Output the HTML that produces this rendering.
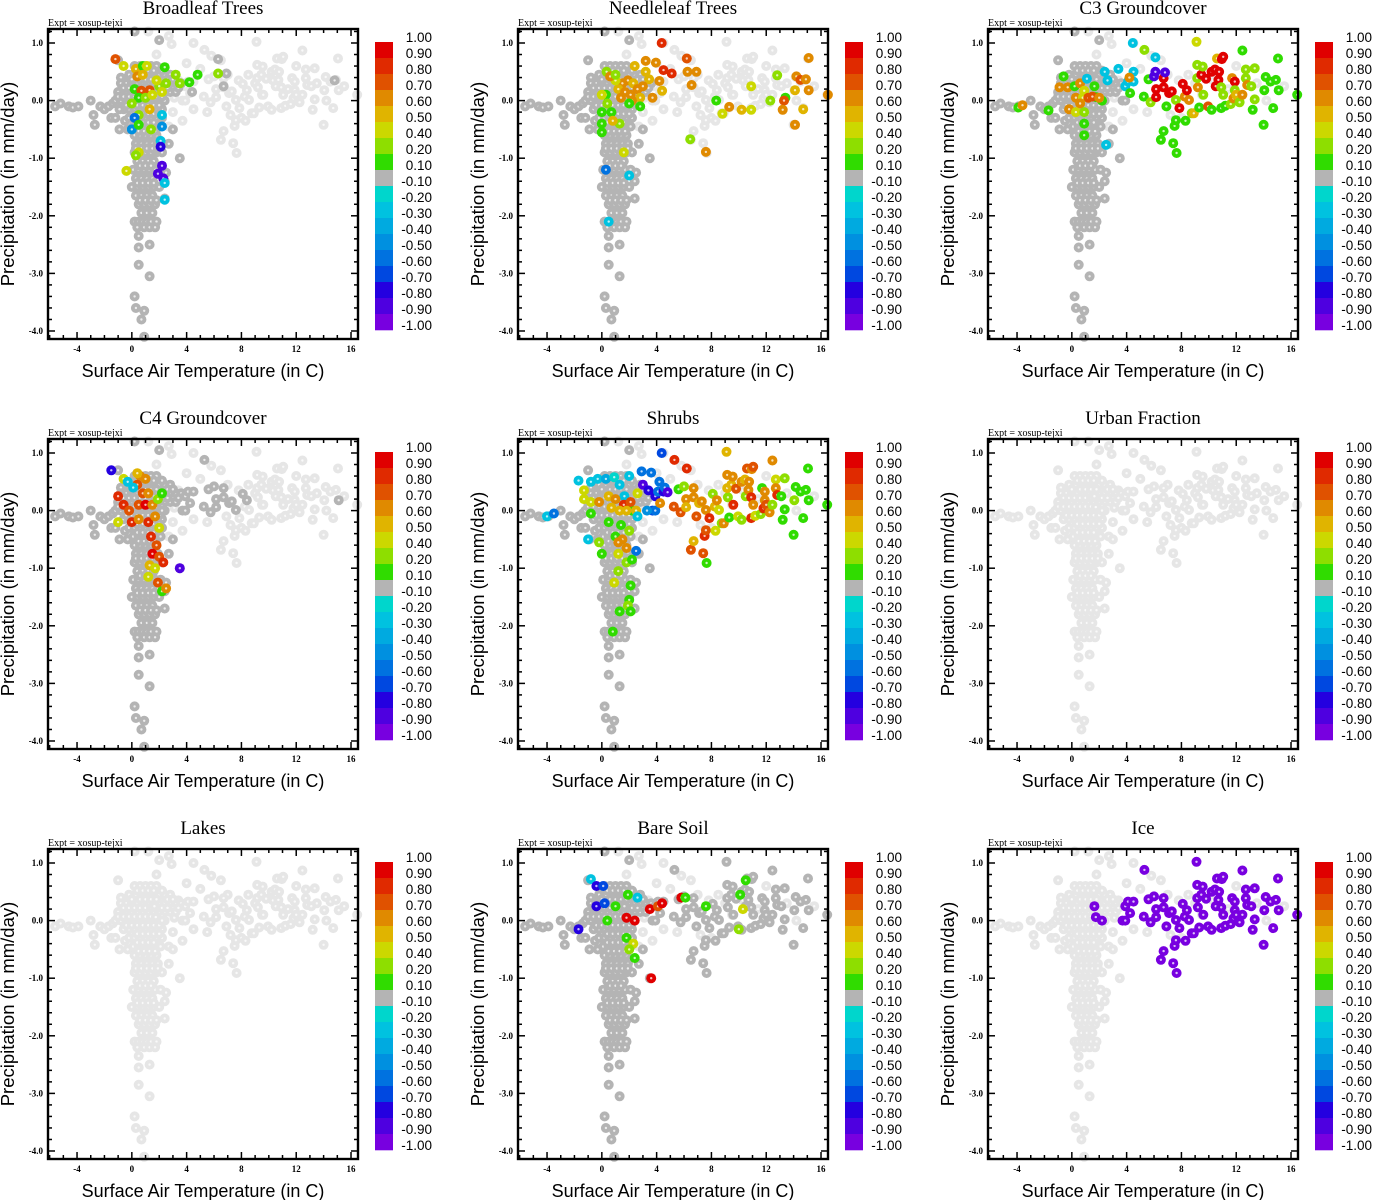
<!DOCTYPE html>
<html><head><meta charset="utf-8"><style>
html,body{margin:0;padding:0;background:#fff;}
svg{display:block;}
</style></head><body>
<svg id="chart" width="1373" height="1200" viewBox="0 0 1373 1200" xmlns="http://www.w3.org/2000/svg"></svg>
<script>
// ---------- data ----------
const coldT=[-5.6,-5.2,-4.6,-4.3,-3.9,-3,-2.8,-2.7,-2.3,-2,-1.7,-1.4,-1.5,-1.2,-1.0,-0.8,-0.9,-0.5,-0.3,
0.2,0.6,1.0,1.4,1.8,
-0.2,0.3,0.8,1.2,1.6,2.0,2.4,2.8,
-0.8,-0.4,0,0.4,0.8,1.2,1.6,2.0,2.4,2.8,3.2,3.6,
-1.0,-0.5,0,0.4,0.8,1.2,1.6,2.0,2.4,2.8,3.2,
-1.2,-0.8,-0.4,0,0.4,0.8,1.2,1.6,2.0,2.4,
-0.6,-0.2,0.2,0.6,1.0,1.4,1.8,2.2,
-0.2,0.2,0.6,1.0,1.4,1.8,2.2,
0.1,0.5,0.9,1.3,1.7,2.1,
0.2,0.6,1.0,1.4,1.8,
0.3,0.7,1.1,1.5,1.9,
0.2,0.6,1.0,1.4,1.8,2.2,
0.4,0.8,1.2,1.6,
0.1,0.5,0.9,1.3,1.7,2.1,
0.3,0.7,1.1,1.5,
0.0,0.4,0.8,1.2,1.6,2.0,
0.3,0.7,1.1,1.5,
0.5,0.9,1.3,1.7,
0.7,1.1,1.5,
0.2,0.5,0.8,1.1,1.4,1.8,
0.4,0.9,1.3,1.7,
0.5,0.5,1.3,0.5,1.3,0.2,0.3,0.9,0.7,0.9,
2.7,2.5,2.4,2.4,3.5,3.0,1.8,2.0,0.2,
0.4,0.8,1.2,1.6,2.2,0.0,0.6,1.0,1.4,1.8,2.6,3.0,-0.6,-0.2,0.2,0.6,1.0,1.4,1.8,2.2,2.6,3.4,-1.0,-0.6,-0.2,0.2,0.6,1.0,1.4,1.8,2.2,-0.4,0.0,0.4,0.8,1.2,1.6,2.0,0.4,0.8,1.2,1.6,2.0,0.4,0.8,1.2,1.6,0.5,0.9,1.3,1.7,0.3,0.7,1.1,1.5,1.9,0.6,1.0,1.4,0.4,0.8,1.2,1.6,0.6,1.0,1.4,1.8];
const coldP=[-0.1,-0.05,-0.1,-0.12,-0.1,0.0,-0.25,-0.42,-0.1,-0.15,-0.1,-0.05,-0.3,-0.3,0.7,0.4,-0.5,-0.35,-0.5,
0.6,0.6,0.6,0.6,0.6,
0.45,0.45,0.45,0.45,0.45,0.45,0.45,0.45,
0.3,0.3,0.3,0.3,0.3,0.3,0.3,0.3,0.3,0.3,0.3,0.3,
0.15,0.15,0.15,0.15,0.15,0.15,0.15,0.15,0.15,0.15,0.15,
0,0,0,0,0,0,0,0,0,0,
-0.15,-0.15,-0.15,-0.15,-0.15,-0.15,-0.15,-0.15,
-0.3,-0.3,-0.3,-0.3,-0.3,-0.3,-0.3,
-0.45,-0.45,-0.45,-0.45,-0.45,-0.45,
-0.6,-0.6,-0.6,-0.6,-0.6,
-0.75,-0.75,-0.75,-0.75,-0.75,
-0.9,-0.9,-0.9,-0.9,-0.9,-0.9,
-1.05,-1.05,-1.05,-1.05,
-1.2,-1.2,-1.2,-1.2,-1.2,-1.2,
-1.35,-1.35,-1.35,-1.35,
-1.5,-1.5,-1.5,-1.5,-1.5,-1.5,
-1.65,-1.65,-1.65,-1.65,
-1.8,-1.8,-1.8,-1.8,
-1.95,-1.95,-1.95,
-2.1,-2.1,-2.1,-2.1,-2.1,-2.1,
-2.2,-2.2,-2.2,-2.2,
-2.35,-2.55,-2.5,-2.85,-3.05,-3.4,-3.6,-3.65,-3.8,-4.1,
-0.75,-1.25,-1.4,-1.7,-1.0,-0.5,-0.85,1.05,1.2,
0.52,0.52,0.52,0.52,0.52,0.37,0.37,0.37,0.37,0.37,0.37,0.37,0.22,0.22,0.22,0.22,0.22,0.22,0.22,0.22,0.22,0.22,0.07,0.07,0.07,0.07,0.07,0.07,0.07,0.07,0.07,-0.08,-0.08,-0.08,-0.08,-0.08,-0.08,-0.08,-0.23,-0.23,-0.23,-0.23,-0.23,-0.38,-0.38,-0.38,-0.38,-0.53,-0.53,-0.53,-0.53,-0.83,-0.83,-0.83,-0.83,-0.83,-1.13,-1.13,-1.13,-1.43,-1.43,-1.43,-1.43,-1.73,-1.73,-1.73,-1.73];
const warmT=[1.65,1.75,2.2,3.9,3.7,3.9,4.1,4.5,4.25,5.3,5.25,5.6,6.0,5.75,6.15,6.15,6.5,6.7,6.7,6.7,6.9,7.1,7.3,7.4,7.5,7.6,7.65,7.6,7.85,8.1,8.25,8.3,8.4,8.55,8.75,8.9,9.1,9.15,9.2,9.15,9.3,9.45,9.55,9.6,9.8,9.95,10.2,10.2,10.45,10.5,10.6,10.7,10.75,10.9,10.9,10.95,11.05,11.05,11.2,11.6,11.7,11.9,11.9,11.8,12.0,12.25,12.45,12.45,12.7,12.7,12.8,13.1,13.35,13.35,13.2,14.0,14.05,14.15,14.5,14.7,14.9,15.05,15.1,16.45];
const warmP=[0.25,0.06,0.0,0.25,0,0,0.33,0.33,0.13,0.88,0.07,0.37,0.42,-0.03,0.2,0.06,-0.68,-0.53,0.39,0.23,-0.1,0.13,0.16,-0.74,-0.44,-0.34,-0.91,0.01,-0.13,0.29,0.07,-0.35,0.18,0.01,-0.22,-0.22,1.02,0.62,0.23,0.39,-0.12,0.45,0.59,0.1,0.38,-0.1,-0.16,0.5,0.54,0.25,0.73,0.36,0.5,-0.13,0.23,0.72,0.76,0.1,-0.09,-0.06,0.39,0.33,0.18,0.04,0.1,-0.03,0.1,0.87,0.54,0.39,0.27,0.25,0.56,0.02,-0.16,-0.42,0.18,0.41,0.33,-0.13,0.36,0.73,0.18,0.1];
const extraT=[2.7,2.9,4.5,5.8,4.0,5.0,3.4,3.1,3.7,2.7,3.0,4.5,5.5,6.5,7.0,7.8,8.5,9.5,10.3,11.4,12.0,13.5,14.2,15.5,8.0,7.2,9.0,1.2,1.8];
const extraP=[1.12,0.98,1.0,0.78,0.65,0.55,0.35,0.05,-0.35,-0.45,-0.2,-0.15,-0.2,0.7,0.45,0.35,0.45,0.1,0.35,0.2,0.6,0.3,0.0,0.25,-0.3,-0.25,0.3,1.2,0.8];

const panelTitles=["Broadleaf Trees","Needleleaf Trees","C3 Groundcover","C4 Groundcover","Shrubs","Urban Fraction","Lakes","Bare Soil","Ice"];
const coldMode=[0,0,0,0,0,null,null,0,null];
const N=null;
const warmBroadleaf=[];
const warmNeedleleaf=[];
const warmC3=[0.15,0.15,0.15,-0.25,0,0,-0.25,-0.25,0.15,0.3,0.15,0.15,-0.85,0.3,0.95,0.95,0.15,0.15,0.95,0.95,0.15,0.95,0.95,0.15,0.15,0.15,0.15,0.3,0.95,0.95,0.65,0.15,0.95,0.65,0.3,0.55,0.45,0.3,0.65,0.3,0.15,0.95,0.3,0.3,0.95,0.75,0.15,0.95,0.95,0.95,0.55,0.95,0.95,0.15,0.3,0.95,0.95,0.3,0.15,0.3,0.65,0.95,0.3,0.65,0.55,0.3,0.65,0.15,0.3,0.3,0.65,0.3,0.3,0.3,0.15,0.15,0.15,0.15,0.15,0.15,0.15,0.15,0.15,0.15];
const warmC4=[0,0,0,0,0,0,0,0,0,0,0,0,0,0,0,0,N,N,0,0,N,0,0,N,N,N,N,0,N,0,N,N,0,N,N,N,N,N,N,N,N,N,N,N,N,N,N,N,N,N,N,N,N,N,N,N,N,N,N,N,N,N,N,N,N,N,N,N,N,N,N,N,N,N,N,N,N,N,N,N,N,N,0,N];
const warmShrubs=[-0.3,0.15,0.15,-0.8,-0.7,-0.6,-0.55,-0.8,0.6,0.85,0.75,0.15,0.3,0.75,0.6,0.5,0.75,0.5,0.6,0.6,0.75,0.5,0.6,0.75,0.85,0.75,0.15,0.6,0.85,0.3,0.5,0.45,0.6,0.45,0.3,0.6,0.5,0.6,0.3,0.55,0.15,0.55,0.6,0.85,0.75,0.4,0.3,0.6,0.55,0.3,0.75,0.6,0.6,0.85,0.85,0.6,0.75,0.6,0.45,0.3,0.15,0.6,0.6,0.85,0.75,0.6,0.3,0.6,0.45,0.6,0.85,0.15,0.3,0.15,0.15,0.15,0.3,0.15,0.15,0.15,0.15,0.15,0.15,0.15];
const warmUrban=[];
const warmLakes=[];
const warmBareSoil=[0,0,0,0,0,0,0,0,0,0,0,0,0,0,0,0,0,0,0,0,0,0,0,0,0,0,0,0,0,0,0,0,0,0,0,0,0,0,0,0,0,0,0,0,0,0,0,0,0,0,0,0,0,0,0,0,0,0,0,0,0,0,0,0,0,0,0,0,0,0,0,0,0,0,0,0,0,0,0,0,0,0,0,0];
const warmIce=[-0.95,-0.95,-0.95,-0.95,-0.95,-0.95,-0.95,-0.95,-0.95,-0.95,-0.95,-0.95,-0.95,-0.95,-0.95,-0.95,-0.95,-0.95,-0.95,-0.95,-0.95,-0.95,-0.95,-0.95,-0.95,-0.95,-0.95,-0.95,-0.95,-0.95,-0.95,-0.95,-0.95,-0.95,-0.95,-0.95,-0.95,-0.95,-0.95,-0.95,-0.95,-0.95,-0.95,-0.95,-0.95,-0.95,-0.95,-0.95,-0.95,-0.95,-0.95,-0.95,-0.95,-0.95,-0.95,-0.95,-0.95,-0.95,-0.95,-0.95,-0.95,-0.95,-0.95,-0.95,-0.95,-0.95,-0.95,-0.95,-0.95,-0.95,-0.95,-0.95,-0.95,-0.95,-0.95,-0.95,-0.95,-0.95,-0.95,-0.95,-0.95,-0.95,-0.95,-0.95];
const warmVals=[warmBroadleaf,warmNeedleleaf,warmC3,warmC4,warmShrubs,warmUrban,warmLakes,warmBareSoil,warmIce];

const hlBroadleaf=[[-1.2,0.72,0.75],[-0.6,0.6,0.4],[0.3,0.55,0.5],[0.8,0.6,0.15],[1.1,0.6,0.4],[0.4,0.42,0.6],[0.8,0.45,0.5],[0.2,0.2,0.15],[0.7,0.17,0.7],[1.3,0.18,0.7],[0.5,0.05,0.15],[1.0,0.05,0.3],[1.5,0.1,0.45],[2.0,0.25,0.3],[2.5,0.3,0.3],[3.2,0.45,0.3],[1.8,0.35,0.45],[2.2,0.15,0.45],[3.5,0.3,0.3],[4.2,0.32,0.15],[4.8,0.45,0.15],[6.3,0.47,0.3],[2.4,0.58,0.15],[0.0,-0.05,0.3],[1.3,-0.15,0.55],[0.5,-0.25,0.3],[0.2,-0.3,-0.6],[0.0,-0.5,-0.5],[0.5,-0.42,0.15],[1.4,-0.5,0.3],[2.2,-0.25,-0.25],[2.2,-0.45,-0.5],[2.1,-0.7,-0.3],[2.1,-0.8,-0.75],[0.5,-0.9,0.45],[0.3,-0.95,0.3],[-0.4,-1.22,0.45],[2.2,-1.13,-0.85],[1.9,-1.27,-0.85],[2.3,-1.35,-0.85],[2.4,-1.43,-0.3],[2.4,-1.72,-0.25],[6.3,0.72,0],[6.9,0.47,0],[6.7,0.25,0],[4.4,0.15,0],[14.8,0.35,0],[-0.9,-0.15,0]];
const hlNeedleleaf=[[4.37,1.0,0.85],[6.2,0.73,0.75],[3.2,0.69,0.65],[3.95,0.66,0.65],[2.4,0.6,0.55],[4.5,0.53,0.85],[5.1,0.47,0.85],[6.25,0.5,0.65],[6.9,0.5,0.65],[3.2,0.5,0.55],[0.35,0.5,0.3],[4.2,0.34,0.65],[3.45,0.37,0.55],[6.55,0.27,0.65],[4.4,0.17,0.55],[3.7,0.05,0.65],[8.35,0.0,0.15],[9.3,-0.11,0.65],[8.8,-0.23,0.45],[10.2,-0.16,0.55],[10.9,-0.16,0.45],[10.9,0.25,0.45],[12.8,0.44,0.3],[12.3,0.0,0.3],[13.4,0.05,0.15],[13.3,0.0,0.75],[13.2,-0.16,0.65],[14.1,0.18,0.55],[14.2,0.42,0.65],[14.5,0.36,0.7],[14.9,0.37,0.65],[15.1,0.18,0.65],[14.7,-0.15,0.55],[14.1,-0.42,0.65],[15.1,0.74,0.65],[16.5,0.1,0.65],[6.45,-0.67,0.3],[7.6,-0.89,0.65],[1.5,0.3,0.65],[1.9,0.35,0.65],[2.3,0.3,0.55],[1.2,0.2,0.55],[1.7,0.15,0.65],[2.1,0.1,0.65],[2.6,0.2,0.65],[3.0,0.25,0.65],[1.0,0.35,0.45],[0.6,0.42,0.65],[2.8,0.05,0.55],[1.4,0.05,0.65],[2.2,0.0,0.65],[0.3,0.1,0.15],[0.0,0.1,0.45],[0.4,-0.05,0.3],[0.0,-0.2,0.15],[0.7,-0.2,0.15],[0.0,-0.4,0.15],[0.0,-0.55,0.15],[1.3,-0.4,0.3],[0.8,-0.35,0.55],[2.0,-0.05,0.15],[2.8,-0.1,0.15],[1.6,-0.9,0.45],[0.3,-1.2,-0.55],[2.0,-1.3,-0.25],[0.5,-2.1,-0.25],[1.0,0.45,0.3]];
const hlC3=[[-3.9,-0.12,0.15],[-3.6,-0.08,0.6],[-1.7,-0.17,0.15],[-0.6,0.42,0.15],[-0.9,0.23,0.6],[-0.3,0.23,0.6],[0.2,0.25,0.15],[0.6,0.3,0.6],[0.9,0.17,0.45],[0.3,0.05,0.6],[0.8,0.05,0.45],[1.2,0.05,0.75],[1.5,0.07,0.75],[2.0,0.05,0.6],[0.6,-0.05,0.6],[-0.2,-0.15,0.6],[0.3,-0.2,0.45],[0.9,-0.2,0.3],[0.9,-0.4,0.15],[0.9,-0.6,0.15],[2.5,-0.77,-0.25],[1.1,0.38,-0.3],[2.4,0.5,-0.25],[2.6,0.35,-0.25],[3.4,0.55,-0.25],[4.5,0.5,-0.25],[4.2,0.4,0.6],[4.45,1.0,-0.25],[6.1,0.75,-0.3],[6.1,0.5,-0.85],[6.8,0.49,-0.85]];
const hlC4=[[-1.5,0.7,-0.8],[-0.6,0.55,0.45],[-0.3,0.5,-0.3],[0.6,0.6,0.6],[-1.0,0.25,0.85],[-0.6,0.1,0.85],[-0.2,0.0,0.75],[0.0,-0.2,0.85],[-1.0,-0.2,0.45],[0.4,0.45,0.75],[1.0,0.55,0.65],[0.8,0.3,0.75],[1.2,0.3,0.6],[0.5,0.1,0.75],[1.0,0.1,0.95],[1.5,0.1,0.6],[1.9,0.2,0.35],[2.2,0.3,0.15],[0.5,-0.15,0.6],[1.2,-0.2,0.85],[1.7,-0.1,0.65],[2.0,-0.3,0.45],[1.4,-0.45,0.85],[1.8,-0.6,0.75],[1.5,-0.75,0.95],[2.0,-0.8,0.7],[1.3,-0.95,0.55],[1.7,-1.0,0.45],[2.3,-0.9,0.85],[1.2,-1.15,0.45],[3.5,-1.0,-0.85],[1.9,-1.25,0.75],[2.2,-1.4,0.15],[2.5,-1.35,0.6],[0.1,0.4,-0.25],[0.4,0.65,0.55]];
const hlShrubs=[[-4,-0.1,-0.25],[-3.5,-0.05,-0.55],[-1.7,0.52,-0.25],[-1.3,0.35,0.45],[-0.8,0.5,-0.25],[-0.3,0.55,-0.3],[0.3,0.55,-0.35],[0.9,0.58,-0.2],[1.3,0.45,-0.25],[2.0,0.6,-0.25],[2.9,0.68,-0.6],[3.6,0.66,-0.6],[3.0,0.45,-0.85],[3.4,0.35,-0.75],[4.2,0.5,-0.6],[4.6,0.4,-0.55],[4.8,0.32,-0.85],[2.6,0.3,0.45],[-1.3,0.2,0.45],[-0.8,0.15,0.45],[-0.2,0.15,0.65],[0.5,0.25,0.55],[1.0,0.2,0.6],[1.6,0.1,0.85],[2.1,0.15,0.75],[1.8,0.0,0.55],[0.7,0.05,0.55],[1.3,0.0,0.55],[2.5,0.0,0.55],[-0.8,-0.05,0.15],[3.3,0.0,-0.5],[2.6,-0.1,-0.25],[0.5,-0.2,0.15],[1.0,-0.45,0.15],[1.4,-0.25,0.15],[2.0,-0.35,0.3],[1.5,-0.5,0.65],[1.8,-0.65,0.65],[1.2,-0.55,0.65],[1.2,-0.75,0.45],[1.8,-0.9,0.3],[2.2,-0.85,0.15],[2.5,-0.7,-0.55],[-1,-0.5,-0.25],[-0.2,-0.55,0.3],[1.2,-1.05,0.3],[0.9,-1.25,0.45],[2.1,-1.3,0.15],[2.0,-1.55,0.15],[1.9,-1.65,0.3],[1.3,-1.75,0.15],[2.1,-1.75,0.15],[0.8,-2.1,0.15],[0.0,-0.75,0.15],[4.37,1.0,-0.7],[6.2,0.73,0.85]];
const hlUrban=[];
const hlLakes=[];
const hlBareSoil=[[-0.8,0.72,-0.25],[-0.4,0.6,-0.8],[0.1,0.6,-0.7],[-1.7,-0.15,-0.8],[-0.4,0.25,-0.8],[0.2,0.3,-0.7],[1.9,0.45,0.15],[2.6,0.4,-0.25],[3.5,0.2,0.95],[4.1,0.25,0.75],[4.4,0.3,0.95],[5.8,0.4,0.95],[6.1,0.4,0.15],[7.6,0.25,0.15],[1.8,0.05,0.95],[2.4,0.0,0.95],[1.8,-0.3,0.15],[2.3,-0.4,0.45],[2.0,-0.5,0.3],[2.4,-0.65,0.15],[3.6,-1.0,0.9],[10.5,0.7,0.15],[10.1,0.45,0.15],[10.3,0.2,0.45],[10.0,-0.15,0.3],[1.0,0.25,0.15],[0.4,0.0,0.15]];
const hlIce=[];
const highlights=[hlBroadleaf,hlNeedleleaf,hlC3,hlC4,hlShrubs,hlUrban,hlLakes,hlBareSoil,hlIce];

const cbLabels=["1.00","0.90","0.80","0.70","0.60","0.50","0.40","0.20","0.10","-0.10","-0.20","-0.30","-0.40","-0.50","-0.60","-0.70","-0.80","-0.90","-1.00"];
const cbBounds=[1.0,0.9,0.8,0.7,0.6,0.5,0.4,0.2,0.1,-0.1,-0.2,-0.3,-0.4,-0.5,-0.6,-0.7,-0.8,-0.9,-1.0];
const cbColors=["#e00000","#e02a00","#e05200","#e08a00","#e0b400","#ccd800","#8ede00","#30dc00","#b4b4b4","#00d6cc","#00c2e0","#00aae0","#0090e0","#0072e0","#0048e0","#2400e0","#4e00e0","#7800e0"];
const xTicks=[-4,0,4,8,12,16];
const yTicks=[1.0,0.0,-1.0,-2.0,-3.0,-4.0];
const LIGHT="#e6e6e6";

// ---------- helpers ----------
const NS="http://www.w3.org/2000/svg";
const svg=document.getElementById('chart');
function mk(tag,attrs,parent){const e=document.createElementNS(NS,tag);for(const k in attrs)e.setAttribute(k,attrs[k]);(parent||svg).appendChild(e);return e;}
function colorFor(v){
  if(v===null||v===undefined)return LIGHT;
  for(let i=0;i<cbColors.length;i++){if(v<=cbBounds[i]&&v>=cbBounds[i+1])return cbColors[i];}
  return v>1?cbColors[0]:cbColors[cbColors.length-1];
}
const X0=48,X1=358,Y0=29,Y1=339,TMIN=-6.12,TMAX=16.51,PMAX=1.243,PMIN=-4.139;
function xs(t){return X0+(t-TMIN)/(TMAX-TMIN)*(X1-X0);}
function ys(p){return Y0+(PMAX-p)/(PMAX-PMIN)*(Y1-Y0);}

for(let k=0;k<9;k++){
  const ox=(k%3)*470, oy=Math.floor(k/3)*410;
  const g=mk('g',{transform:`translate(${ox},${oy})`});
  
  
  const title=mk('text',{x:203,y:14,'text-anchor':'middle','font-family':'Liberation Serif, serif','font-size':19},g);
  title.textContent=panelTitles[k];
  
  
  const ex=mk('text',{x:48,y:26,'font-family':'Liberation Serif, serif','font-size':10},g);
  ex.textContent="Expt = xosup-tejxi";
  
  
  const pts=[];
  for(let i=0;i<extraT.length;i++)pts.push([extraT[i],extraP[i],null]);
  for(let i=0;i<coldT.length;i++)pts.push([coldT[i],coldP[i],coldMode[k]]);
  const wv=warmVals[k];
  for(let i=0;i<warmT.length;i++)pts.push([warmT[i],warmP[i],wv.length?wv[i]:null]);
  for(const h of highlights[k])pts.push(h);
  const rank=v=>v===null?0:(v===0?1:2);
  const ordered=pts.map((p,i)=>[p,i]).sort((a,b)=>rank(a[0][2])-rank(b[0][2])||a[1]-b[1]);
  const pg=mk('g',{},g);
  
  
  for(const [p] of ordered){
    const cx=xs(p[0]),cy=ys(p[1]);
    const c=mk('circle',{cx:cx.toFixed(1),cy:cy.toFixed(1),r:5,fill:colorFor(p[2])},pg);
    
    
    mk('circle',{cx:cx.toFixed(1),cy:cy.toFixed(1),r:1.2,fill:'rgba(255,255,255,0.75)'},pg);
  }
  const fr=mk('rect',{x:X0,y:Y0,width:X1-X0,height:Y1-Y0,fill:'none',stroke:'#000','stroke-width':2.4},g);
  
  
  for(let t=-6;t<=16;t++){
    const x=xs(t),len=(t%4===0)?7:4;
    mk('line',{x1:x,y1:Y1,x2:x,y2:Y1-len,stroke:'#000','stroke-width':1.5},g);
    mk('line',{x1:x,y1:Y0,x2:x,y2:Y0+len,stroke:'#000','stroke-width':1.5},g);
  }
  for(let j=6;j>=-20;j--){
    const p=j*0.2,y=ys(p),len=(j%5===0)?7:4;
    mk('line',{x1:X0,y1:y,x2:X0+len,y2:y,stroke:'#000','stroke-width':1.5},g);
    mk('line',{x1:X1,y1:y,x2:X1-len,y2:y,stroke:'#000','stroke-width':1.5},g);
  }
  for(const t of xTicks){
    const tl=mk('text',{x:xs(t),y:352,'text-anchor':'middle','font-family':'Liberation Serif, serif','font-size':9,'font-weight':'bold'},g);
    tl.textContent=String(t);
    
    
  }
  for(const p of yTicks){
    const tl=mk('text',{x:43,y:ys(p)+3,'text-anchor':'end','font-family':'Liberation Serif, serif','font-size':9,'font-weight':'bold'},g);
    tl.textContent=p.toFixed(1);
    
    
  }
  const xl=mk('text',{x:203,y:377,'text-anchor':'middle','font-family':'Liberation Sans, sans-serif','font-size':18},g);
  xl.textContent="Surface Air Temperature (in C)";
  
  
  const yl=mk('text',{x:0,y:0,'text-anchor':'middle','font-family':'Liberation Sans, sans-serif','font-size':18.5,transform:'translate(14,184) rotate(-90)'},g);
  yl.textContent="Precipitation (in mm/day)";
  
  
  const cb=mk('g',{},g);
  
  
  for(let i=0;i<cbColors.length;i++){
    const r=mk('rect',{x:375,y:42+i*16,width:18,height:16.3,fill:cbColors[i]},cb);
    
    
  }
  for(let i=0;i<cbLabels.length;i++){
    const tl=mk('text',{x:432,y:42+i*16,'text-anchor':'end','font-family':'Liberation Sans, sans-serif','font-size':13.5},cb);
    tl.textContent=cbLabels[i];
    
    
  }
}
</script>
</body></html>
